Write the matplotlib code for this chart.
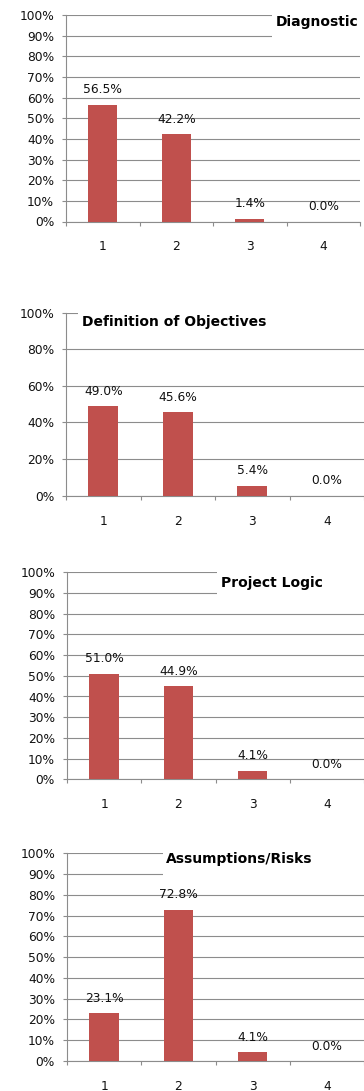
import matplotlib.pyplot as plt
from matplotlib.patches import Rectangle
from matplotlib.ticker import FuncFormatter

# survey results per section, share of answers for each score
categories = ["1", "2", "3", "4"]
titles = ["Diagnostic", "Definition of Objectives", "Project Logic", "Assumptions/Risks"]
diagnostic = [56.5, 42.2, 1.4, 0.0]
objectives = [49.0, 45.6, 5.4, 0.0]
project_logic = [51.0, 44.9, 4.1, 0.0]
assumptions = [23.1, 72.8, 4.1, 0.0]
ytick_steps = [10, 20, 10, 10]

W, H = 364, 1091
DPI = 100
PT = 72 / DPI  # pixels -> points

plt.rcParams["font.family"] = ["DejaVu Sans"]

BAR = "#C0504D"
GRID = "#8c8c8c"
INK = "#111111"

# (left, right, top, bottom) of each plot area in pixels
boxes = [(66, 360, 15, 221.5), (66, 364, 312.7, 495.7),
         (67, 364, 572.3, 779.3), (67, 364, 853.3, 1061)]
# title placement in axes fraction: text x, text y, white patch left, patch bottom
title_pos = [(0.714, 0.966, 0.70, 0.882), (0.054, 0.949, 0.04, 0.878),
             (0.519, 0.948, 0.505, 0.88), (0.333, 0.973, 0.323, 0.881)]

fig = plt.figure(figsize=(W / DPI, H / DPI), dpi=DPI)

series = [diagnostic, objectives, project_logic, assumptions]
for values, title, step, (l, r, t, b), (tx, ty, bx, by) in zip(
        series, titles, ytick_steps, boxes, title_pos):
    ax = fig.add_axes([l / W, 1 - b / H, (r - l) / W, (b - t) / H])
    x = range(len(categories))
    ax.bar(x, values, width=0.4, color=BAR, zorder=3)
    for xi, v in zip(x, values):
        ax.annotate(f"{v:.1f}%", (xi, v), xytext=(0, 15 * PT),
                    textcoords="offset points", ha="center", va="center",
                    fontsize=8.8, color=INK, zorder=5)

    ax.set_xlim(-0.5, len(categories) - 0.5)
    ax.set_ylim(0, 100)
    ax.set_yticks(range(0, 101, step))
    ax.yaxis.set_major_formatter(FuncFormatter(lambda v, _: f"{v:.0f}%"))
    ax.yaxis.grid(True, color=GRID, linewidth=0.8)
    ax.set_axisbelow(True)

    # category boundaries carry the tick marks, labels sit at the centres
    ax.set_xticks([i - 0.5 for i in range(len(categories) + 1)])
    ax.set_xticklabels([])
    ax.set_xticks(list(x), minor=True)
    ax.set_xticklabels(categories, minor=True)
    ax.tick_params(axis="x", which="major", length=4 * PT, color=GRID, width=0.8)
    ax.tick_params(axis="x", which="minor", length=0, pad=19 * PT,
                   labelsize=8.8, labelcolor=INK)
    ax.tick_params(axis="y", length=4 * PT, color=GRID, width=0.8,
                   pad=8 * PT, labelsize=8.8, labelcolor=INK)

    for side in ("top", "right"):
        ax.spines[side].set_visible(False)
    for side in ("left", "bottom"):
        ax.spines[side].set_color(GRID)
        ax.spines[side].set_linewidth(0.8)

    # title sits inside the plot on a white patch that hides the top gridlines
    ax.add_patch(Rectangle((bx, by), 1.2 - bx, 0.2, transform=ax.transAxes,
                           facecolor="white", edgecolor="none", zorder=2,
                           clip_on=False))
    ax.text(tx, ty, title, transform=ax.transAxes, ha="left", va="center",
            fontsize=10, fontweight="bold", color="black", zorder=4)

fig.savefig("out.png", dpi=DPI)
